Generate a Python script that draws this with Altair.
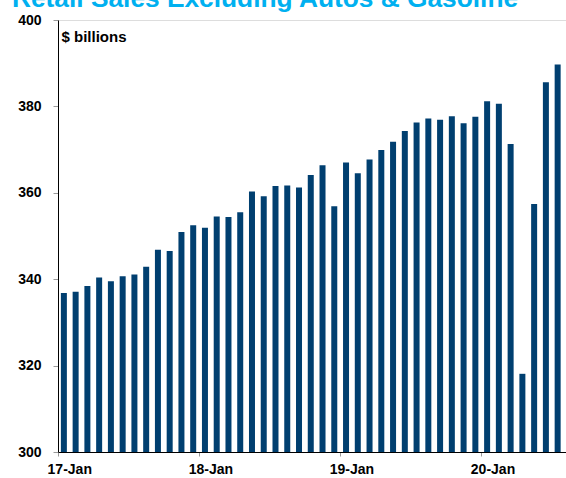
import altair as alt
import pandas as pd

years = ["17", "18", "19", "20"]
month_names = ["Jan", "Feb", "Mar", "Apr", "May", "Jun",
               "Jul", "Aug", "Sep", "Oct", "Nov", "Dec"]
months = [f"{y}-{m}" for y in years for m in month_names][:43]

sales = [
    336.8, 337.1, 338.4, 340.4, 339.5, 340.7, 341.1, 342.9, 346.8, 346.5, 350.9, 352.5,
    351.9, 354.5, 354.4, 355.5, 360.3, 359.2, 361.6, 361.7, 361.2, 364.1, 366.4, 356.9,
    367.0, 364.5, 367.7, 369.9, 371.8, 374.3, 376.3, 377.2, 376.9, 377.7, 376.1, 377.6,
    381.2, 380.6, 371.3, 318.1, 357.4, 385.6, 389.7,
]
tick_labels = ["17-Jan", "18-Jan", "19-Jan", "20-Jan"]
y_ticks = [300, 320, 340, 360, 380, 400]

df = pd.DataFrame({"month": months, "sales": sales})

FONT = "Liberation Sans, Arial, sans-serif"

chart = (
    alt.Chart(df)
    .mark_bar(size=6, color="#003F70")
    .encode(
        x=alt.X(
            "month:O",
            sort=months,
            scale=alt.Scale(paddingInner=0, paddingOuter=0.105, align=0),
            axis=alt.Axis(
                title=None,
                values=tick_labels,
                labelAngle=0,
                bandPosition=0,
                labelOffset=5.88,
                tickSize=4,
                tickColor="#999999",
                domainColor="#000000",
                labelPadding=6,
                labelFont=FONT,
                labelFontSize=14,
                labelFontWeight="bold",
                labelColor="#000000",
                grid=False,
            ),
        ),
        y=alt.Y(
            "sales:Q",
            scale=alt.Scale(domain=[300, 400], nice=False, zero=False),
            axis=alt.Axis(
                title="$ billions",
                titleAngle=0,
                titleX=3,
                titleY=21,
                titleAlign="left",
                titleBaseline="alphabetic",
                titleFont=FONT,
                titleFontSize=15,
                titleFontWeight="bold",
                titleColor="#000000",
                values=y_ticks,
                tickSize=5,
                tickColor="#999999",
                domainColor="#000000",
                labelPadding=12,
                labelFont=FONT,
                labelFontSize=14,
                labelFontWeight="bold",
                labelColor="#000000",
                grid=False,
            ),
        ),
        y2=alt.datum(300),
    )
    .properties(
        width=508,
        height=432,
        autosize=alt.AutoSizeParams(type="none"),
        padding={"left": 58, "top": 20, "right": 0, "bottom": 26},
        title=alt.TitleParams(
            "Retail Sales Excluding Autos & Gasoline",
            anchor="start",
            frame="group",
            font=FONT,
            fontSize=26.3,
            fontWeight="bold",
            color="#00B0F0",
            baseline="alphabetic",
            offset=3,
            dx=-46,
            dy=23,
        ),
    )
    .configure_view(stroke=None)
    .configure(background="white")
)

chart.save("out.html", embed_options={"renderer": "svg", "actions": False})
